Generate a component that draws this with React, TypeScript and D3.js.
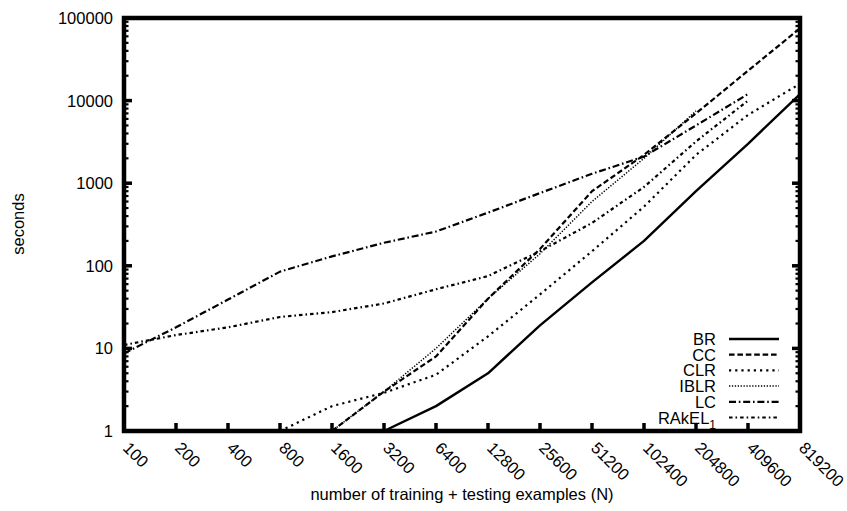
import * as d3 from 'd3'

// training + testing set sizes (x categories)
const sizes = ['100', '200', '400', '800', '1600', '3200', '6400', '12800', '25600', '51200', '102400', '204800', '409600', '819200']

// seconds per method, null = not run
const br = [null, null, null, null, null, 1, 2, 5, 19, 63, 200, 800, 3000, 12000]
const cc = [null, null, null, null, 1, 3, 8, 40, 160, 800, 2200, 7000, 23000, 75000]
const clr = [null, null, null, 1, 2, 2.9, 4.8, 14, 45, 150, 520, 2200, 6700, 16000]
const iblr = [null, null, null, null, 1, 3, 10, 40, 140, 600, 2000, 7500, null, null]
const lc = [8.7, 18, 39, 85, 130, 190, 260, 440, 760, 1300, 2100, 5000, 12000, null]
const rakel = [11, 14.5, 18, 24, 27.5, 35, 52, 75, 150, 330, 900, 3200, 10000, null]

const yTicks = [1, 10, 100, 1000, 10000, 100000]

const series = [
  { name: 'BR', vals: br, dash: 'none', w: 2.4 },
  { name: 'CC', vals: cc, dash: '5.6 2.8', w: 2.2 },
  { name: 'CLR', vals: clr, dash: '2.2 4', w: 2.2 },
  { name: 'IBLR', vals: iblr, dash: '1.3 1.6', w: 1.5 },
  { name: 'LC', vals: lc, dash: '7 2.8 1.6 2.8', w: 2.2 },
  { name: 'RAkEL', vals: rakel, dash: '3.5 3 1.6 3', w: 2.2 },
]

export default function App() {
  const W = 847, H = 511
  const m = { l: 124, r: 800, t: 18, b: 431 }
  const x = d3.scalePoint<string>().domain(sizes).range([m.l, m.r])
  const y = d3.scaleLog().domain([1, 100000]).range([m.b, m.t])
  const font = '"Liberation Sans", Arial, sans-serif'
  const fs = 16.5

  const line = d3.line<number | null>()
    .defined(v => v != null)
    .x((_, i) => x(sizes[i])!)
    .y(v => y(v as number))

  // minor log ticks 2..9 in each decade
  const minor: number[] = []
  for (let d = 1; d < 100000; d *= 10) for (let k = 2; k <= 9; k++) minor.push(d * k)

  return (
    <svg width={W} height={H} style={{ display: 'block', position: 'absolute', left: 0, top: 0 }}
      fontFamily={font}>
      <rect width={W} height={H} fill="#fff"/>

      {/* data lines */}
      <g fill="none" stroke="#000" strokeLinejoin="round">
        {series.map(s => (
          <path key={s.name} d={line(s.vals) ?? ''} strokeWidth={s.w}
            strokeDasharray={s.dash === 'none' ? undefined : s.dash}/>
        ))}
      </g>

      {/* ticks */}
      <g stroke="#000">
        {sizes.map(s => (
          <line key={s} x1={x(s)} x2={x(s)} y1={m.b} y2={m.b - 8} strokeWidth={3.5}/>
        ))}
        {yTicks.map(t => (
          <g key={t}>
            <line x1={m.l} x2={m.l + 8} y1={y(t)} y2={y(t)} strokeWidth={3.5}/>
            <line x1={m.r} x2={m.r - 8} y1={y(t)} y2={y(t)} strokeWidth={3.5}/>
          </g>
        ))}
        {minor.map(t => (
          <g key={t}>
            <line x1={m.l} x2={m.l + 4.5} y1={y(t)} y2={y(t)} strokeWidth={2.2}/>
            <line x1={m.r} x2={m.r - 4.5} y1={y(t)} y2={y(t)} strokeWidth={2.2}/>
          </g>
        ))}
      </g>

      {/* frame */}
      <rect x={m.l} y={m.t} width={m.r - m.l} height={m.b - m.t} fill="none" stroke="#000" strokeWidth={4.5}/>

      {/* y tick labels */}
      {yTicks.map(t => (
        <text key={t} x={113} y={y(t) + 6} textAnchor="end" fontSize={fs}>{t}</text>
      ))}

      {/* x tick labels, rotated */}
      {sizes.map(s => (
        <text key={s} transform={`translate(${x(s)! - 2},${449}) rotate(45)`} fontSize={fs}>{s}</text>
      ))}

      <text transform="translate(24,224) rotate(-90)" textAnchor="middle" fontSize={fs}>seconds</text>
      <text x={462} y={500} textAnchor="middle" fontSize={fs}>number of training + testing examples (N)</text>

      {/* legend */}
      {series.map((s, i) => {
        const ly = 339 + i * 15.7
        return (
          <g key={s.name}>
            <text x={716} y={ly + 6} textAnchor="end" fontSize={fs}>
              {s.name}
              {s.name === 'RAkEL' && <tspan dy={5} fontSize={12}>1</tspan>}
            </text>
            <line x1={729} x2={779} y1={ly} y2={ly} stroke="#000" strokeWidth={s.w}
              strokeDasharray={s.dash === 'none' ? undefined : s.dash}/>
          </g>
        )
      })}
    </svg>
  )
}
